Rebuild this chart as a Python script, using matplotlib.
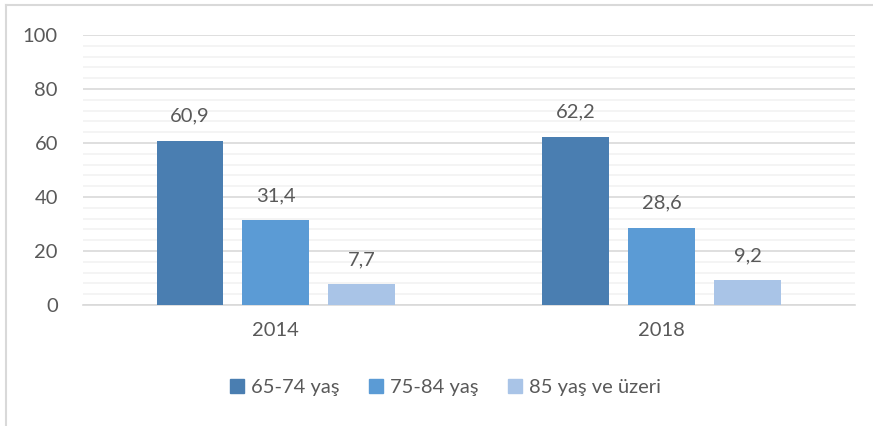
import numpy as np
import matplotlib.pyplot as plt
from matplotlib.lines import Line2D
from matplotlib.ticker import MultipleLocator

plt.rcParams['font.family'] = ['Lato', 'DejaVu Sans']

years = ['2014', '2018']
groups = ['65-74 yaş', '75-84 yaş', '85 yaş ve üzeri']
values = [
    [60.9, 62.2],
    [31.4, 28.6],
    [7.7, 9.2],
]
colors = ['#4A7EB1', '#5B9BD5', '#A9C4E7']
txt = '#595959'

fig = plt.figure(figsize=(8.73, 4.26), dpi=100)
ax = fig.add_axes([0.095, 0.284, 0.884, 0.634])

x = np.arange(len(years))
w = 0.173
step = 0.2228
for i, (g, vals) in enumerate(zip(groups, values)):
    pos = x + (i - 1) * step
    bars = ax.bar(pos, vals, width=w, color=colors[i], label=g, zorder=3)
    for b, v in zip(bars, vals):
        ax.text(b.get_x() + b.get_width() / 2, v + 6, f'{v:.1f}'.replace('.', ','),
                ha='center', va='bottom', fontsize=14.5, color=txt)

ax.set_xlim(-0.5, 1.5)
ax.set_ylim(0, 100)
ax.yaxis.set_major_locator(MultipleLocator(20))
ax.yaxis.set_minor_locator(MultipleLocator(4))
ax.grid(axis='y', which='major', color='#D9D9D9', linewidth=1.2, zorder=0)
ax.grid(axis='y', which='minor', color='#F2F2F2', linewidth=1.2, zorder=0)
ax.set_xticks(x)
ax.set_xticklabels(years)
ax.tick_params(axis='both', which='both', length=0, labelsize=14.5, labelcolor=txt)
ax.tick_params(axis='y', pad=18)
ax.tick_params(axis='x', pad=12)
for s in ['top', 'right', 'left']:
    ax.spines[s].set_visible(False)
ax.spines['bottom'].set_color('#D9D9D9')
ax.spines['bottom'].set_linewidth(1.2)

handles = [Line2D([], [], marker='s', linestyle='none', markersize=10,
                  markerfacecolor=c, markeredgecolor=c) for c in colors]
fig.legend(handles, groups, loc='center', bbox_to_anchor=(0.51, 0.09), ncol=3,
           frameon=False, fontsize=14.5, labelcolor=txt, handlelength=0.8,
           handletextpad=0.3, columnspacing=1.4)

fig.add_artist(Line2D([6 / 873, 6 / 873], [0, 1 - 5 / 426], color='#D9D9D9', lw=1.5))
fig.add_artist(Line2D([6 / 873, 1], [1 - 5 / 426, 1 - 5 / 426], color='#D9D9D9', lw=1.5))

fig.savefig('out.png', dpi=100)
